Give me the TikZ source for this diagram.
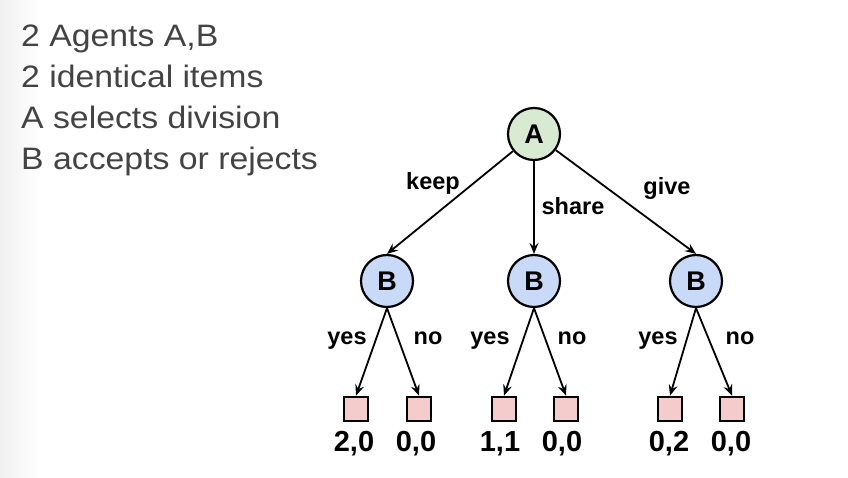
\documentclass[tikz,border=0pt]{standalone}
\usepackage{fontspec}
\setmainfont{Liberation Sans}
\newfontfamily\notefont[FakeStretch=1.09]{Liberation Sans}
\usetikzlibrary{arrows.meta}
\definecolor{notegray}{HTML}{434343}
\definecolor{agentA}{HTML}{D9EAD3}
\definecolor{agentB}{HTML}{C9DAF8}
\definecolor{outcome}{HTML}{F4CCCC}
\tikzset{>={Stealth[length=11pt,width=9pt,inset=4pt]},
  agent/.style={circle,draw,line width=2.2pt,minimum size=52pt,inner sep=0pt,font=\fontsize{27}{30}\selectfont\bfseries},
  leaf/.style={rectangle,draw,line width=2.2pt,fill=outcome,minimum size=24.5pt,inner sep=0pt},
  move/.style={line width=1.8pt,->},
  lbl/.style={anchor=base,inner sep=0pt,font=\fontsize{23.5}{27}\selectfont\bfseries},
  pay/.style={anchor=base,inner sep=0pt,font=\fontsize{29}{32}\selectfont\bfseries},
  note/.style={anchor=base west,inner sep=0pt,text=notegray,font=\notefont\fontsize{31}{36}\selectfont}}

\begin{document}
\begin{tikzpicture}[x=1pt,y=-1pt]
  \useasboundingbox (0,0) rectangle (848,478);
  \shade[left color=black!6,right color=white] (0,0) rectangle (40,478);

  % rules of the game
  \node[note] (n1) at (21,47) {2 Agents A,B};
  \node[note] (n2) at (21,88) {2 identical items};
  \node[note] (n3) at (21,129) {A selects division};
  \node[note] (n4) at (21,169.5) {B accepts or rejects};

  % players
  \node[agent,fill=agentA] (a) at (534,134) {A};
  \node[agent,fill=agentB] (b1) at (387,281) {B};
  \node[agent,fill=agentB] (b2) at (534,281) {B};
  \node[agent,fill=agentB] (b3) at (696,281) {B};

  % outcomes
  \node[leaf] (l1) at (356,409) {};
  \node[leaf] (l2) at (419,409) {};
  \node[leaf] (l3) at (504,409) {};
  \node[leaf] (l4) at (566,409) {};
  \node[leaf] (l5) at (670,409) {};
  \node[leaf] (l6) at (732,409) {};

  \draw[move] (a) -- (b1.north);
  \draw[move] (a) -- (b2);
  \draw[move] (a) -- (b3.north);
  \node[lbl] (keep) at (433,190) {keep};
  \node[lbl] (share) at (573,215) {share};
  \node[lbl] (give) at (667,195) {give};

  \draw[move] (b1.south) -- (l1.north);
  \draw[move] (b1.south) -- (l2.north);
  \draw[move] (b2.south) -- (l3.north);
  \draw[move] (b2.south) -- (l4.north);
  \draw[move] (b3.south) -- (l5.north);
  \draw[move] (b3.south) -- (l6.north);
  \node[lbl] (y1) at (347,344) {yes};
  \node[lbl] (o1) at (428,344) {no};
  \node[lbl] (y2) at (490,344) {yes};
  \node[lbl] (o2) at (572,344) {no};
  \node[lbl] (y3) at (658,344) {yes};
  \node[lbl] (o3) at (740,344) {no};

  % payoffs
  \node[pay] (p1) at (354,451) {2,0};
  \node[pay] (p2) at (416,451) {0,0};
  \node[pay] (p3) at (500,451) {1,1};
  \node[pay] (p4) at (562,451) {0,0};
  \node[pay] (p5) at (669,451) {0,2};
  \node[pay] (p6) at (731,451) {0,0};
\end{tikzpicture}
\end{document}
